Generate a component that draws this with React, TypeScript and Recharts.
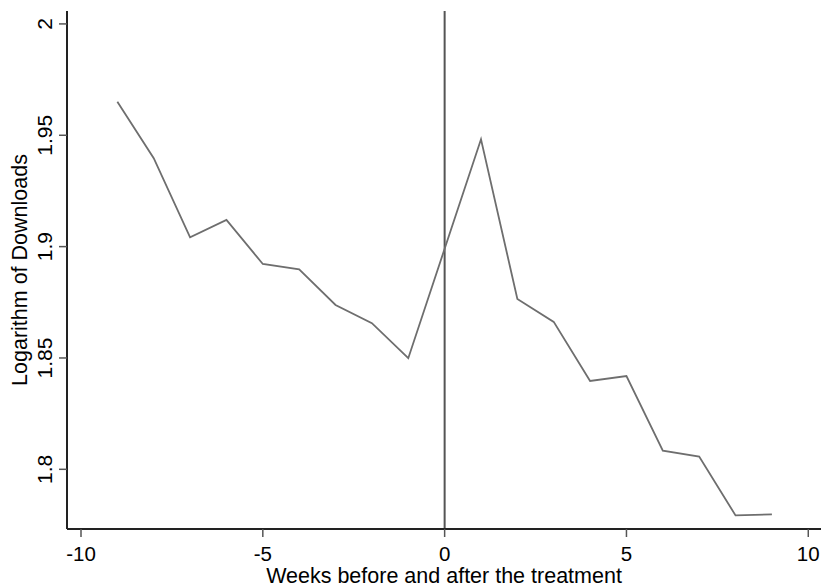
import React from 'react';
import {
  LineChart,
  Line,
  XAxis,
  YAxis,
  ReferenceLine,
  Label,
} from 'recharts';

// weeks relative to treatment (week 0 itself has no observation)
const weeks = [-9, -8, -7, -6, -5, -4, -3, -2, -1, 1, 2, 3, 4, 5, 6, 7, 8, 9];
const logDownloads = [
  1.9651, 1.9397, 1.9042, 1.912, 1.8922, 1.8898, 1.8738, 1.8656, 1.8499,
  1.9482, 1.8765, 1.8662, 1.8397, 1.8419, 1.8084, 1.8057, 1.7793, 1.7798,
];
const xTicks = [-10, -5, 0, 5, 10];
const yTicks = [1.8, 1.85, 1.9, 1.95, 2];

const data = weeks.map((w, i) => ({ week: w, value: logDownloads[i] }));

const FONT = '"Liberation Sans", Arial, sans-serif';
const X_DOMAIN: [number, number] = [-10.385, 10.35];
const Y_DOMAIN: [number, number] = [1.7732, 2.0058];

const YTick = (props: any) => {
  const { x, y, payload } = props;
  return (
    <text
      x={x}
      y={y}
      transform={`rotate(-90, ${x}, ${y})`}
      textAnchor="middle"
      fontSize={21}
      fontFamily={FONT}
      fill="#000"
    >
      {payload.value}
    </text>
  );
};

const YTitle = (props: any) => {
  const { viewBox } = props;
  const x = viewBox.x + 27;
  const y = viewBox.y + viewBox.height / 2;
  return (
    <text
      x={x}
      y={y}
      transform={`rotate(-90, ${x}, ${y})`}
      textAnchor="middle"
      fontSize={21.5}
      fontFamily={FONT}
      fill="#000"
    >
      Logarithm of Downloads
    </text>
  );
};

const App: React.FC = () => {
  return (
    <div style={{ position: 'absolute', left: 0, top: 0, background: '#fff' }}>
      <LineChart
        width={822}
        height={587}
        data={data}
        margin={{ top: 11, right: 1, bottom: 0, left: 0 }}
      >
        <XAxis
          dataKey="week"
          type="number"
          domain={X_DOMAIN}
          ticks={xTicks}
          allowDataOverflow
          height={58}
          tickSize={8}
          tickMargin={9}
          tick={{ fontSize: 20.5, fontFamily: FONT, fill: '#000' }}
          axisLine={{ stroke: '#222', strokeWidth: 2 }}
          tickLine={{ stroke: '#555', strokeWidth: 1.5 }}
        >
          <Label
            value="Weeks before and after the treatment"
            position="insideBottom"
            offset={4}
            style={{ fontSize: 21.5, fontFamily: FONT, fill: '#000' }}
          />
        </XAxis>
        <XAxis
          xAxisId="top"
          orientation="top"
          dataKey="week"
          type="number"
          domain={X_DOMAIN}
          allowDataOverflow
          height={0}
          tick={false}
          tickLine={false}
          axisLine={{ stroke: '#808080', strokeWidth: 2 }}
        />
        <YAxis
          type="number"
          domain={Y_DOMAIN}
          ticks={yTicks}
          allowDataOverflow
          width={67}
          tickSize={8}
          tickMargin={7}
          tick={<YTick />}
          axisLine={{ stroke: '#222', strokeWidth: 2 }}
          tickLine={{ stroke: '#555', strokeWidth: 1.5 }}
        >
          <Label content={<YTitle />} />
        </YAxis>
        <YAxis
          yAxisId="right"
          orientation="right"
          type="number"
          domain={Y_DOMAIN}
          allowDataOverflow
          width={0}
          tick={false}
          tickLine={false}
          axisLine={{ stroke: '#808080', strokeWidth: 2 }}
        />
        <ReferenceLine x={0} stroke="#555" strokeWidth={2} />
        <Line
          type="linear"
          dataKey="value"
          stroke="#6e6e6e"
          strokeWidth={1.8}
          dot={false}
          isAnimationActive={false}
        />
      </LineChart>
    </div>
  );
};

export default App;
